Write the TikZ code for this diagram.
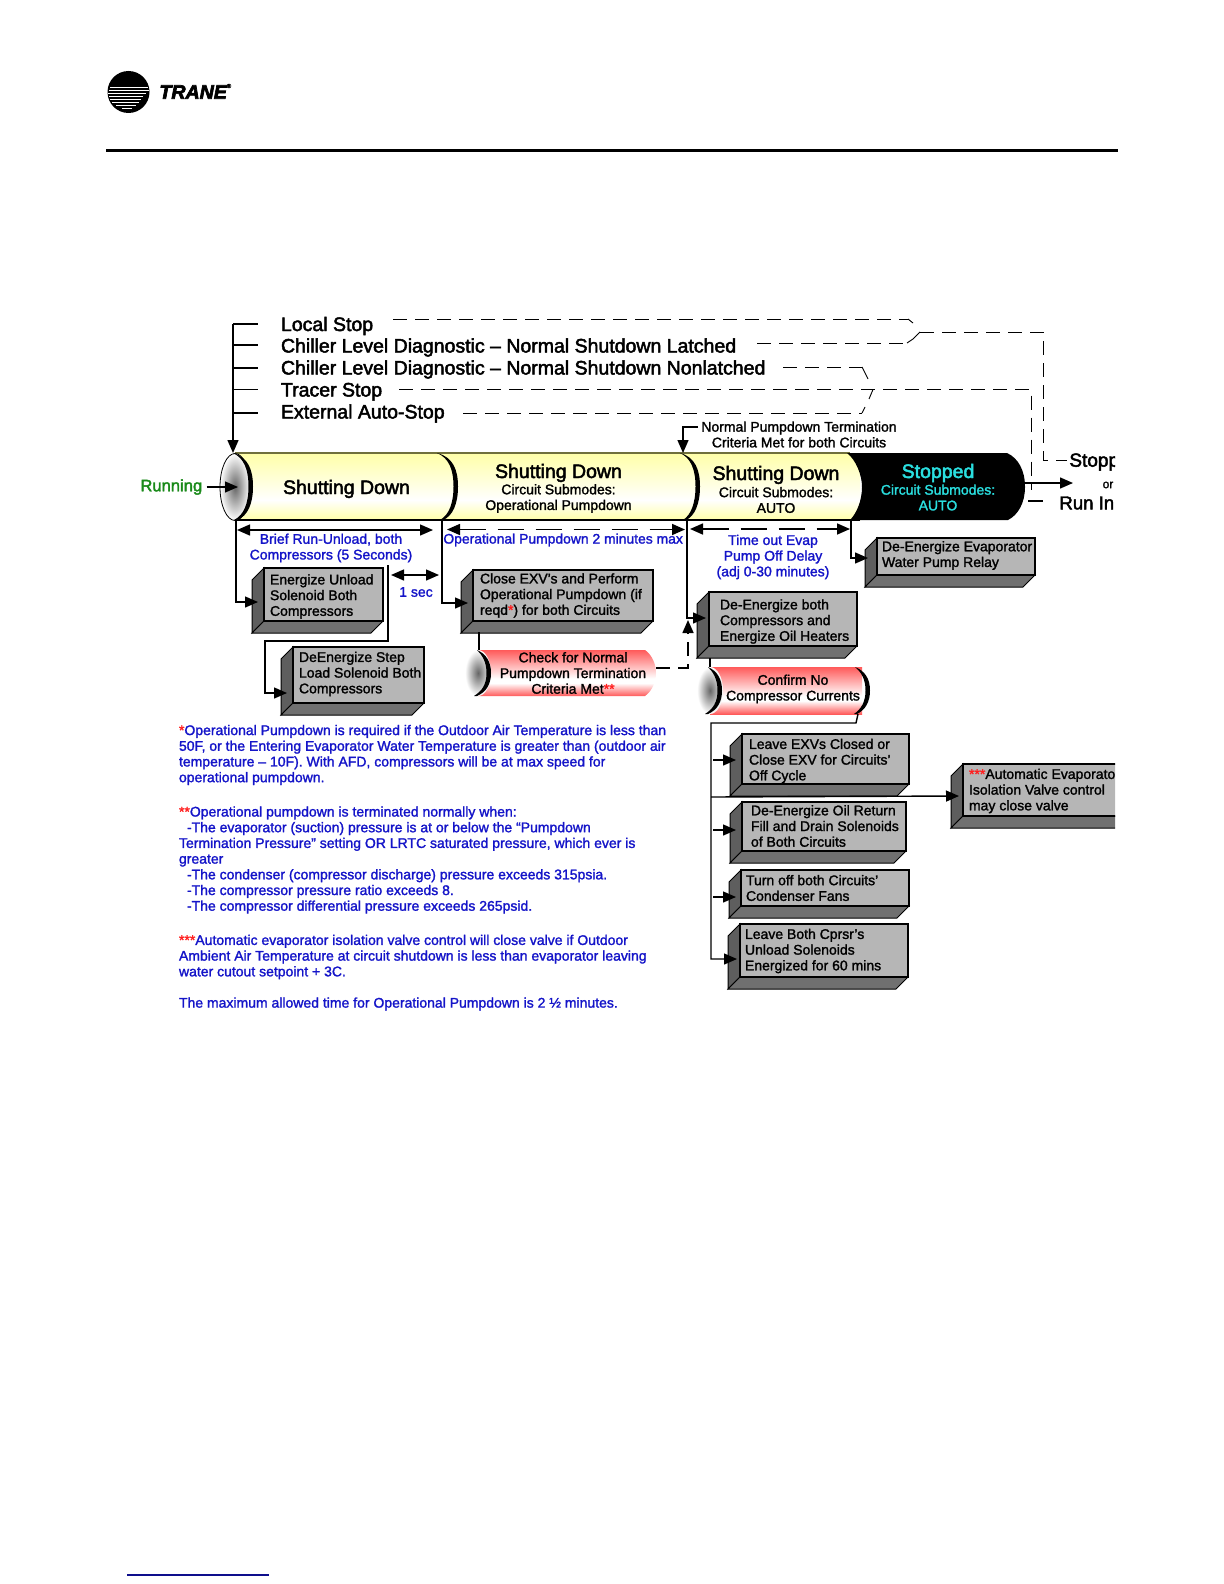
\documentclass[tikz,border=0pt]{standalone}
\usepackage{fontspec}
\usepackage{xcolor}
\setmainfont{Liberation Sans}[FakeBold=1.6]
\newfontfamily\headfont{Liberation Sans}[FakeBold=2.4]
\newfontfamily\logofont{Liberation Sans Bold Italic}[FakeBold=3.5]
\usetikzlibrary{arrows.meta,calc}
\definecolor{txtblue}{HTML}{1414C8}
\definecolor{starred}{HTML}{FF2020}
\definecolor{rungreen}{HTML}{1A8A1A}
\definecolor{stopcyan}{HTML}{2ADFE0}
\definecolor{boxfront}{HTML}{B6B6B6}
\definecolor{boxside}{HTML}{5E5E5E}
\definecolor{boxbottom}{HTML}{707070}
\definecolor{olive}{HTML}{70703C}
\definecolor{yl}{HTML}{FFFFA8}
\definecolor{rd}{HTML}{FF5A5A}
\pgfdeclareverticalshading{barshade}{100bp}{color(0bp)=(yl); color(25bp)=(yl); color(40bp)=(white); color(50bp)=(white!70!yl); color(75bp)=(yl); color(100bp)=(yl)}
\pgfdeclareverticalshading{pillshade}{100bp}{color(0bp)=(rd); color(25bp)=(rd); color(39bp)=(white); color(44bp)=(white); color(75bp)=(rd); color(100bp)=(rd)}
\newcommand{\fsz}[2]{\fontsize{#1}{#2}\selectfont}
\newcommand{\starmark}[1]{{\color{starred}#1}}
\newcommand{\gbox}[4]{%
  \fill[boxside,draw=black,line width=.5pt] (#1,#2) -- ({#1-12},{#2+12}) -- ({#1-12},{#4+12}) -- (#1,#4) -- cycle;
  \fill[boxbottom,draw=black,line width=.5pt] (#1,#4) -- ({#1-12},{#4+12}) -- ({#3-12},{#4+12}) -- (#3,#4) -- cycle;
  \fill[boxfront,draw=black,line width=.7pt] (#1,#2) rectangle (#3,#4);}
\newcommand{\crescent}[5]{% xtop, xmax, xbot, ymid, half height
  \fill[black] (#1,{#4-#5}) .. controls ({#2-5},{#4-#5+4}) and (#2,{#4-#5*.5}) .. (#2,#4)
   .. controls (#2,{#4+#5*.5}) and ({#2-5},{#4+#5-4}) .. (#3,{#4+#5}) -- ({#3-3},{#4+#5})
   .. controls ({#2-9},{#4+#5-5}) and ({#2-4.5},{#4+#5*.5}) .. ({#2-4.5},#4)
   .. controls ({#2-4.5},{#4-#5*.5}) and ({#2-9},{#4-#5+5}) .. (#1,{#4-#5}) -- cycle;}
\tikzset{
  x=.5pt,y=-.5pt,
  lbl/.style={inner sep=0pt,outer sep=0pt,align=center,font=\fsz{7}{7.85}},
  boxtxt/.style={inner sep=0pt,outer sep=0pt,anchor=west,align=left,font=\fsz{7}{7.85}},
  head/.style={inner sep=0pt,outer sep=0pt,anchor=west,text height=7pt,text depth=0pt,font=\headfont\fsz{9.75}{11}},
  bighead/.style={inner sep=0pt,outer sep=0pt,text height=7pt,text depth=0pt,font=\headfont\fsz{9.75}{11}},
  note/.style={inner sep=0pt,outer sep=0pt,anchor=west,align=left,text=txtblue,font=\fsz{7}{7.85}},
  ln/.style={line width=.7pt,draw=black},
  arr/.style={ln,-{Triangle[length=6.5pt,width=5.5pt]}},
  dbl/.style={ln,{Triangle[length=6.5pt,width=5.5pt]}-{Triangle[length=6.5pt,width=5.5pt]}},
  dsh/.style={line width=.45pt,draw=black,dash pattern=on 7pt off 4pt},
  dbldsh/.style={dbl,line width=.8pt,dash pattern=on 13pt off 6pt},
  arrdsh/.style={arr,line width=.8pt,dash pattern=on 7pt off 4pt},
}
\begin{document}
\begin{tikzpicture}
\useasboundingbox (0,0) rectangle (1224,1584);
% header
\fill[black] (128.5,92) circle (21);
\foreach \yy/\xa/\xb in {87/110/148,90/109/149,93/108/146,96/109/143,99/110/141,102/112/139,105/116/136,108/122/132}
  \draw[white,line width=.4pt] (\xa,\yy) -- (\xb,\yy);
\node[inner sep=0pt,anchor=west,font=\logofont\fsz{9.8}{10}] (logotext) at (159,92) {TRANE};
\node[inner sep=0pt,font=\fsz{3}{3}] (logoreg) at (229,86) {®};
\fill[black] (106,148.5) rectangle (1118,151.5);
\draw[draw=txtblue!70!black,line width=.7pt] (127,1575) -- (269,1575);

\begin{scope}
\clip (0,0) rectangle (1115,1584);
% bar
\shade[shading=barshade] (235,453) -- (860,453) -- (860,520) -- (235,520) -- cycle;
\draw[olive,line width=.9pt] (235,453) -- (850,453);
\fill[black] (847,453) .. controls (856,460) and (862,475) .. (862,487) .. controls (862,500) and (857,513) .. (850,520) -- (1008,520) .. controls (1018,515) and (1025,503) .. (1025,487) .. controls (1025,470) and (1018,458) .. (1007,453) -- cycle;
\draw[black,line width=.9pt] (237,520) -- (860,520);
\shade[inner color=black!60,outer color=white,draw=black,line width=.4pt] (235,487) ellipse [x radius=15,y radius=33.5];
\crescent{233}{253}{237}{486.5}{33.5}
\crescent{437}{458}{443}{486.5}{33.5}
\crescent{680}{700}{686}{486.5}{33.5}
\node[bighead] (sd1) at (346.5,487) {Shutting Down};
\node[bighead] (sd2) at (558.5,471) {Shutting Down};
\node[lbl] (sd2sub) at (558.5,498.5) {Circuit Submodes:\\Operational Pumpdown};
\node[bighead] (sd3) at (776,473) {Shutting Down};
\node[lbl] (sd3sub) at (776,500) {Circuit Submodes:\\AUTO};
\node[bighead,text=stopcyan] (st) at (938,471) {Stopped};
\node[lbl,text=stopcyan] (stsub) at (938,497.5) {Circuit Submodes:\\AUTO};
\node[inner sep=0pt,anchor=west,text=rungreen,font=\headfont\fsz{8.3}{9}] (running) at (140,487) {Running};
% triggers
\node[head] (t1) at (281,324) {Local Stop};
\node[head] (t2) at (281,345.5) {Chiller Level Diagnostic – Normal Shutdown Latched};
\node[head] (t3) at (281,367.5) {Chiller Level Diagnostic – Normal Shutdown Nonlatched};
\node[head] (t4) at (281,389.5) {Tracer Stop};
\node[head] (t5) at (281,411.5) {External Auto-Stop};
\coordinate (busTop) at (233,324); \coordinate (busTip) at (233,453);
\coordinate (s1) at (258,324); \coordinate (s2) at (258,345); \coordinate (s3) at (258,368); \coordinate (s4) at (258,389.5); \coordinate (s5) at (258,413);
\draw[arr] (busTop) -- (busTip);
\draw[ln] (busTop) -- (s1);
\foreach \n/\yy in {s2/345,s3/368,s4/389.5,s5/413} \draw[ln] (233,\yy) -- (\n);
\coordinate (runTip) at (238,487);
\draw[arr] (running.east) ++(4,0) -- (runTip);
% dashed logic
\coordinate (d1a) at (393,319); \coordinate (d1b) at (908,319); \coordinate (d1c) at (913,323);
\coordinate (d2a) at (757,343); \coordinate (d2b) at (907,343); \coordinate (d2c) at (913,339);
\coordinate (j1) at (920,332); \coordinate (j1r) at (1043,332); \coordinate (j1d) at (1043,460); \coordinate (j1e) at (1067,460);
\draw[dsh] (d1a) -- (d1b);
\draw[line width=.45pt] (d1b) -- (d1c) (d2b) -- (d2c) -- (j1);
\draw[dsh] (d2a) -- (d2b);
\draw[dsh] (j1) -- (j1r) -- (j1d) -- (j1e);
\coordinate (d3a) at (783,367); \coordinate (d3b) at (862,367); \coordinate (d3c) at (868,379);
\coordinate (d4a) at (399,389.5); \coordinate (d4b) at (1031,389.5); \coordinate (d4c) at (1031,490);
\coordinate (d5a) at (463,413); \coordinate (d5b) at (862,413); \coordinate (d5c) at (865,407); \coordinate (d5d) at (869,399); \coordinate (j2) at (873,389.5);
\draw[dsh] (d3a) -- (d3b); \draw[line width=.45pt] (d3b) -- (d3c) (d5b) -- (d5c) (d5d) -- (j2);
\draw[dsh] (d4a) -- (d4b) -- (d4c);
\draw[dsh] (d5a) -- (d5b);
% right outputs
\coordinate (outA) at (1025,483); \coordinate (outB) at (1073,483);
\draw[arr] (outA) -- (outB);
\coordinate (ruA) at (1028,501); \coordinate (ruB) at (1043,501);
\draw[ln] (ruA) -- (ruB);
\node[inner sep=0pt,anchor=west,font=\headfont\fsz{9.5}{10}] (stopout) at (1069,462) {Stopp};
\node[inner sep=0pt,font=\fsz{6}{7}] (orout) at (1108,485) {or};
\node[inner sep=0pt,anchor=west,font=\headfont\fsz{9.3}{10}] (runout) at (1059,503) {Run In};
% normal pumpdown label
\node[lbl] (npt) at (799,434.5) {Normal Pumpdown Termination\\Criteria Met for both Circuits};
\coordinate (nptA) at (698,427); \coordinate (nptB) at (683,427); \coordinate (nptC) at (683,453);
\draw[arr] (nptA) -- (nptB) -- (nptC);
\node[lbl,text=txtblue] (brief) at (331,548) {Brief Run-Unload, both\\Compressors (5 Seconds)};
\node[inner sep=0pt,anchor=west,text=txtblue,font=\fsz{6.95}{7.85}] (opmax) at (443,540) {Operational Pumpdown 2 minutes max};
\node[lbl,text=txtblue] (timeout) at (773,557) {Time out Evap\\Pump Off Delay\\(adj 0-30 minutes)};
\coordinate (sa) at (391,575); \coordinate (sb) at (439,575);
\draw[dbl] (sa) -- (sb);
\node[lbl,text=txtblue] (onesec) at (416,592) {1 sec};
% boxes
\gbox{264}{568}{383}{621}
\node[boxtxt] (bx1) at (270,596.5) {Energize Unload\\Solenoid Both\\Compressors};
\gbox{293}{647}{424}{703}
\node[boxtxt] (bx2) at (299,674) {DeEnergize Step\\Load Solenoid Both\\Compressors};
\gbox{473}{570}{653}{621}
\node[boxtxt] (bx3) at (480,595.5) {Close EXV’s and Perform\\Operational Pumpdown (if\\reqd\starmark{*}) for both Circuits};
\gbox{709}{592}{857}{646}
\node[boxtxt] (bx4) at (720,621.5) {De-Energize both\\Compressors and\\Energize Oil Heaters};
\gbox{877}{538}{1035}{575}
\node[boxtxt] (bx5) at (882,555.5) {De-Energize Evaporator\\Water Pump Relay};
\gbox{742}{734}{909}{784}
\node[boxtxt] (bx6) at (749,761) {Leave EXVs Closed or\\Close EXV for Circuits’\\Off Cycle};
\gbox{742}{802}{906}{851}
\node[boxtxt] (bx7) at (751,826) {De-Energize Oil Return\\Fill and Drain Solenoids\\of Both Circuits};
\gbox{741}{870}{909}{906}
\node[boxtxt] (bx8) at (746,888) {Turn off both Circuits’\\Condenser Fans};
\gbox{740}{924}{908}{977}
\node[boxtxt] (bx9) at (745,951) {Leave Both Cprsr’s\\Unload Solenoids\\Energized for 60 mins};
\gbox{963}{764}{1140}{816}
\node[boxtxt] (bx10) at (969,791) {\starmark{***}Automatic Evaporato\\Isolation Valve control\\may close valve};
% drop lines
\coordinate (v1t) at (236,520); \coordinate (v1b) at (236,602); \coordinate (e1) at (258,602);
\draw[arr] (v1t) -- (v1b) -- (e1);
\coordinate (v2t) at (442,520); \coordinate (v2b) at (442,603); \coordinate (e3) at (468,603);
\draw[arr] (v2t) -- (v2b) -- (e3);
\coordinate (v3t) at (687,520); \coordinate (v3b) at (687,618); \coordinate (e4) at (706,618);
\draw[arr] (v3t) -- (v3b) -- (e4);
\coordinate (v4t) at (851,520); \coordinate (v4b) at (851,558); \coordinate (e5) at (868,558);
\draw[arr] (v4t) -- (v4b) -- (e5);
\coordinate (da1) at (237,530); \coordinate (da2) at (433,530);
\draw[dbl] (da1) -- (da2);
\coordinate (db1) at (447,529.5); \coordinate (db2) at (685,529.5);
\draw[dbldsh] (db1) -- (db2);
\coordinate (dc1) at (690,529); \coordinate (dc2) at (850,529);
\draw[dbldsh] (dc1) -- (dc2);
% unload chain
\coordinate (u1) at (388,565); \coordinate (u2) at (388,641); \coordinate (u3) at (265,641); \coordinate (u4) at (265,693); \coordinate (u5) at (287,693);
\draw[arr] (u1) -- (u2) -- (u3) -- (u4) -- (u5);
% pills
\shade[shading=pillshade] (478,650) -- (645,650) .. controls (652,655) and (656,664) .. (656,673) .. controls (656,682) and (652,691) .. (645,696) -- (478,696) -- cycle;
\shade[inner color=black!60,outer color=white] (478,673) ellipse [x radius=13,y radius=23];
\crescent{477}{491}{477}{673}{23}
\node[lbl] (chk) at (573,673) {Check for Normal\\Pumpdown Termination\\Criteria Met\starmark{**}};
\shade[shading=pillshade] (710,667) -- (862,667) -- (862,714) -- (710,714) -- cycle;
\shade[inner color=black!60,outer color=white] (710,690.5) ellipse [x radius=13,y radius=23.5];
\crescent{708}{722}{708}{690.5}{23.5}
\crescent{855}{870}{857}{690.5}{23.5}
\node[lbl] (cnf) at (793,689) {Confirm No\\Compressor Currents};
\coordinate (c1a) at (479,632); \coordinate (c1b) at (479,650);
\draw[ln] (c1a) -- (c1b);
\coordinate (c2a) at (710,658); \coordinate (c2b) at (710,667);
\draw[ln] (c2a) -- (c2b);
\coordinate (pa) at (656,668); \coordinate (pb) at (688,668); \coordinate (pc) at (688,620);
\draw[arrdsh] (pa) -- (pb) -- (pc);
% confirm bus
\coordinate (bq1) at (858,714); \coordinate (bq2) at (856,723); \coordinate (bq3) at (711,723); \coordinate (bq4) at (711,959); \coordinate (ea) at (737,959);
\draw[arr] (bq1) -- (bq2) -- (bq3) -- (bq4) -- (ea);
\coordinate (b6a) at (713,760); \coordinate (b6b) at (736,760);
\coordinate (b7a) at (713,830); \coordinate (b7b) at (736,830);
\coordinate (b8a) at (713,897); \coordinate (b8b) at (736,897);
\draw[arr] (b6a) -- (b6b);
\draw[arr] (b7a) -- (b7b);
\draw[arr] (b8a) -- (b8b);
\coordinate (b10a) at (711,797); \coordinate (b10b) at (959,796);
\draw[arr] (b10a) -- (b10b);
\end{scope}
% notes
\node[note] (n1) at (179,755) {\starmark{*}Operational Pumpdown is required if the Outdoor Air Temperature is less than\\50F, or the Entering Evaporator Water Temperature is greater than (outdoor air\\temperature – 10F). With AFD, compressors will be at max speed for\\operational pumpdown.};
\node[note] (n2) at (179,860) {\starmark{**}Operational pumpdown is terminated normally when:\\\hspace*{4pt}-The evaporator (suction) pressure is at or below the “Pumpdown\\Termination Pressure” setting OR LRTC saturated pressure, which ever is\\greater\\\hspace*{4pt}-The condenser (compressor discharge) pressure exceeds 315psia.\\\hspace*{4pt}-The compressor pressure ratio exceeds 8.\\\hspace*{4pt}-The compressor differential pressure exceeds 265psid.};
\node[note] (n3) at (179,957) {\starmark{***}Automatic evaporator isolation valve control will close valve if Outdoor\\Ambient Air Temperature at circuit shutdown is less than evaporator leaving\\water cutout setpoint + 3C.};
\node[note] (n4) at (179,1004) {The maximum allowed time for Operational Pumpdown is 2 ½ minutes.};
\end{tikzpicture}
\end{document}
